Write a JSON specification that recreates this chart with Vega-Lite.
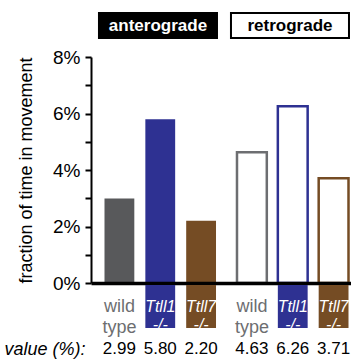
{
  "$schema": "https://vega.github.io/schema/vega-lite/v6.json",
  "padding": {"left": 3, "top": 12, "right": 0, "bottom": 0},
  "config": {"font": "Liberation Sans", "view": {"stroke": null}},
  "datasets": {
    "bars": [
      {"dir": "anterograde", "geno": "wild type", "value": 2.99},
      {"dir": "anterograde", "geno": "Ttll1 -/-", "value": 5.80},
      {"dir": "anterograde", "geno": "Ttll7 -/-", "value": 2.20},
      {"dir": "retrograde", "geno": "wild type", "value": 4.63},
      {"dir": "retrograde", "geno": "Ttll1 -/-", "value": 6.26},
      {"dir": "retrograde", "geno": "Ttll7 -/-", "value": 3.71}
    ],
    "dirs": [{"dir": "anterograde"}, {"dir": "retrograde"}]
  },
  "spacing": 9,
  "vconcat": [
    {
      "width": 271,
      "height": 25,
      "data": {"name": "dirs"},
      "encoding": {
        "x": {"field": "dir", "type": "nominal", "scale": {"paddingInner": 0.106, "paddingOuter": 0.0795, "align": 0.38}, "axis": null}
      },
      "layer": [
        {"mark": {"type": "bar", "stroke": "black", "strokeWidth": 2},
         "encoding": {"fill": {"condition": {"test": "datum.dir === 'anterograde'", "value": "black"}, "value": "white"}}},
        {"mark": {"type": "text", "fontSize": 17, "fontWeight": "bold"},
         "encoding": {"text": {"field": "dir"}, "color": {"condition": {"test": "datum.dir === 'anterograde'", "value": "white"}, "value": "black"}}}
      ]
    },
    {
      "spacing": 2,
      "vconcat": [
        {
          "spacing": 2,
          "bounds": "flush",
          "vconcat": [
            {
              "width": 271,
              "height": 226,
              "data": {"name": "bars"},
              "encoding": {
                "x": {"field": "dir", "type": "nominal", "scale": {"paddingInner": 0.072, "paddingOuter": 0.0587},
                      "axis": {"title": null, "labels": false, "ticks": false, "domainWidth": 3.5, "domainColor": "black", "zindex": 1}},
                "xOffset": {"field": "geno", "type": "nominal", "scale": {"domain": ["wild type", "Ttll1 -/-", "Ttll7 -/-"], "paddingInner": 0.27, "paddingOuter": 0.14}},
                "y": {"field": "value", "type": "quantitative", "scale": {"domain": [0, 8], "nice": false},
                      "axis": {"title": "fraction of time in movement", "values": [0, 1, 2, 3, 4, 5, 6, 7, 8],
                               "labelExpr": "datum.value % 2 === 0 ? datum.value + '%' : ''",
                               "grid": false, "domainWidth": 2, "domainColor": "black", "tickColor": "black", "tickWidth": 2, "tickSize": 6,
                               "labelFontSize": 19, "labelColor": "black", "labelPadding": 5,
                               "titleFontSize": 18, "titleFontWeight": "normal", "titleColor": "black", "titlePadding": 17}}
              },
              "layer": [
                {"transform": [{"filter": "datum.dir === 'anterograde'"}],
                 "mark": {"type": "bar"},
                 "encoding": {"fill": {"field": "geno", "type": "nominal", "scale": {"domain": ["wild type", "Ttll1 -/-", "Ttll7 -/-"], "range": ["#58595b", "#2e3192", "#754c24"]}, "legend": null}}},
                {"transform": [{"filter": "datum.dir === 'retrograde'"}],
                 "mark": {"type": "bar", "fill": "white", "strokeWidth": 2.5},
                 "encoding": {"stroke": {"field": "geno", "type": "nominal", "scale": {"domain": ["wild type", "Ttll1 -/-", "Ttll7 -/-"], "range": ["#6d6e71", "#2e3192", "#754c24"]}, "legend": null}}}
              ]
            },
            {
              "width": 271,
              "height": 43,
              "data": {"name": "bars"},
              "encoding": {
                "x": {"field": "dir", "type": "nominal", "scale": {"paddingInner": 0.072, "paddingOuter": 0.0587}, "axis": null},
                "xOffset": {"field": "geno", "type": "nominal", "scale": {"domain": ["wild type", "Ttll1 -/-", "Ttll7 -/-"], "paddingInner": 0.06, "paddingOuter": 0.07}}
              },
              "layer": [
                {"transform": [{"filter": "datum.geno !== 'wild type'"}],
                 "mark": {"type": "bar"},
                 "encoding": {"fill": {"field": "geno", "type": "nominal", "scale": {"domain": ["Ttll1 -/-", "Ttll7 -/-"], "range": ["#2e3192", "#754c24"]}, "legend": null}}},
                {"transform": [{"filter": "datum.geno === 'wild type'"}],
                 "mark": {"type": "text", "lineBreak": " ", "fontSize": 18, "color": "#6d6e71", "lineHeight": 21},
                 "encoding": {"text": {"field": "geno"}}},
                {"transform": [{"filter": "datum.geno !== 'wild type'"}],
                 "mark": {"type": "text", "lineBreak": " ", "fontSize": 16, "fontStyle": "italic", "color": "white", "lineHeight": 18},
                 "encoding": {"text": {"field": "geno"}}}
              ]
            }
          ]
        },
        {
          "width": 271,
          "height": 20,
          "data": {"name": "bars"},
          "mark": {"type": "text", "fontSize": 17, "color": "black"},
          "encoding": {
            "x": {"field": "dir", "type": "nominal", "scale": {"paddingInner": 0.072, "paddingOuter": 0.0587}, "axis": null},
            "xOffset": {"field": "geno", "type": "nominal", "scale": {"domain": ["wild type", "Ttll1 -/-", "Ttll7 -/-"], "paddingInner": 0.27, "paddingOuter": 0.14}},
            "y": {"datum": "value (%):", "type": "nominal",
                  "axis": {"title": null, "domain": false, "ticks": false, "labelFontSize": 18, "labelFontStyle": "italic", "labelColor": "black", "labelPadding": 6}},
            "text": {"field": "value", "type": "quantitative", "format": ".2f"}
          }
        }
      ]
    }
  ]
}
